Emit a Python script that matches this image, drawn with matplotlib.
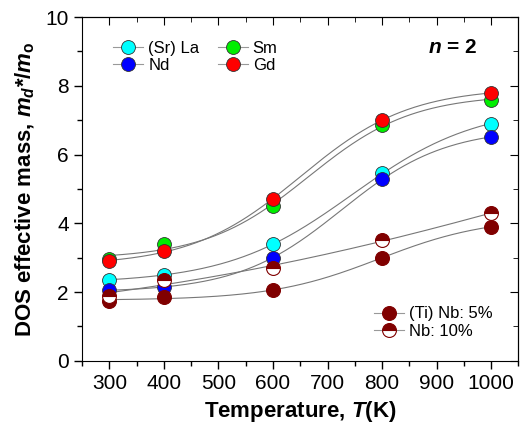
import numpy as np
import matplotlib
matplotlib.use("Agg")
import matplotlib.pyplot as plt
from matplotlib.ticker import MultipleLocator

plt.rcParams['font.family'] = 'Liberation Sans'
plt.rcParams['mathtext.fontset'] = 'custom'
plt.rcParams['mathtext.it'] = 'Liberation Sans:italic:bold'
plt.rcParams['mathtext.bf'] = 'Liberation Sans:bold'
plt.rcParams['mathtext.rm'] = 'Liberation Sans:bold'

# data
temps = [300, 400, 600, 800, 1000]
la = [2.35, 2.5, 3.4, 5.45, 6.9]
nd = [2.05, 2.15, 3.0, 5.3, 6.5]
sm = [2.95, 3.4, 4.5, 6.85, 7.6]
gd = [2.9, 3.2, 4.7, 7.0, 7.8]
nb5 = [1.75, 1.85, 2.05, 3.0, 3.9]
nb10 = [1.9, 2.35, 2.7, 3.5, 4.3]

fig = plt.figure(figsize=(5.2, 4.26), dpi=100)
ax = fig.add_axes([0.158, 0.153, 0.839, 0.807])

t = np.array(temps, dtype=float)
tt = np.linspace(300, 1000, 300)


def boltzmann_fit(y):
    # sigmoidal (Boltzmann) least-squares fit, coarse grid over x0 and dx
    y = np.asarray(y, dtype=float)
    best = None
    for x0 in np.arange(400, 1600, 5):
        for dx in np.arange(40, 500, 5):
            s = 1 / (1 + np.exp((t - x0) / dx))
            A = np.column_stack([np.ones_like(s), s])
            coef, *_ = np.linalg.lstsq(A, y, rcond=None)
            err = np.sum((A @ coef - y) ** 2)
            if best is None or err < best[0]:
                best = (err, x0, dx, coef)
    _, x0, dx, coef = best
    return coef[0] + coef[1] / (1 + np.exp((tt - x0) / dx))


for y in [la, nd, sm, gd, nb5, nb10]:
    ax.plot(tt, boltzmann_fit(y), color='#777777', lw=0.8, zorder=1)

edge = dict(mec='#333333', mew=0.6)
ax.plot(temps, la, ls='none', marker='o', ms=10, mfc='#00ffff', **edge)
ax.plot(temps, nd, ls='none', marker='o', ms=10, mfc='#0000ff', **edge)
ax.plot(temps, sm, ls='none', marker='o', ms=10, mfc='#00ee00', **edge)
ax.plot(temps, gd, ls='none', marker='o', ms=10, mfc='#ff0000', **edge)
ax.plot(temps, nb5, ls='none', marker='o', ms=10, mfc='#800000', mec='#800000', mew=0.8)
ax.plot(temps, nb10, ls='none', marker='o', ms=10, mfc='#800000', mec='#800000',
        mew=0.8, fillstyle='top', markerfacecoloralt='white')


# legend handles with short grey line through the marker
def proxy(**kw):
    return plt.Line2D([], [], color='#999999', lw=0.8, marker='o', ms=10, **kw)


leg1 = ax.legend([proxy(mfc='#00ffff', **edge), proxy(mfc='#0000ff', **edge),
                  proxy(mfc='#00ee00', **edge), proxy(mfc='#ff0000', **edge)],
                 ['(Sr) La', 'Nd', 'Sm', 'Gd'], ncol=2, loc='upper left', bbox_to_anchor=(0.037, 0.975),
                 frameon=False, fontsize=12, handlelength=1.8, handletextpad=0.3, columnspacing=1.1,
                 labelspacing=0.15)
ax.add_artist(leg1)
ax.legend([proxy(mfc='#800000', mec='#800000', mew=0.8),
           proxy(mfc='#800000', mec='#800000', mew=0.8, fillstyle='top', markerfacecoloralt='white')],
          ['(Ti) Nb: 5%', 'Nb: 10%'], loc='lower right', bbox_to_anchor=(0.975, 0.02),
          frameon=False, fontsize=12, handlelength=1.8, handletextpad=0.3, labelspacing=0.15)

ax.text(0.905, 0.895, r'$n$ = 2', transform=ax.transAxes, fontsize=15, fontweight='bold', ha='right')

ax.set_xlim(250, 1050)
ax.set_ylim(0, 10)
ax.xaxis.set_minor_locator(MultipleLocator(50))
ax.yaxis.set_major_locator(MultipleLocator(2))
ax.yaxis.set_minor_locator(MultipleLocator(1))
ax.set_xticks(np.arange(300, 1001, 100))
ax.tick_params(which='major', direction='out', length=6, width=1, labelsize=15)
ax.tick_params(which='minor', direction='out', length=3.5, width=1)

top = ax.secondary_xaxis('top')
top.xaxis.set_major_locator(MultipleLocator(100))
top.xaxis.set_minor_locator(MultipleLocator(50))
top.tick_params(which='major', direction='in', length=6, labeltop=False)
top.tick_params(which='minor', direction='in', length=3.5)
right = ax.secondary_yaxis('right')
right.yaxis.set_major_locator(MultipleLocator(2))
right.yaxis.set_minor_locator(MultipleLocator(1))
right.tick_params(which='major', direction='in', length=6, labelright=False)
right.tick_params(which='minor', direction='in', length=3.5)

ax.set_xlabel(r'Temperature, $T$(K)', fontsize=16, fontweight='bold', labelpad=4)
ax.set_ylabel(r'DOS effective mass, $m_d$*/$m_\mathrm{o}$', fontsize=16, fontweight='bold', labelpad=6)

fig.savefig('out.png', dpi=100)
